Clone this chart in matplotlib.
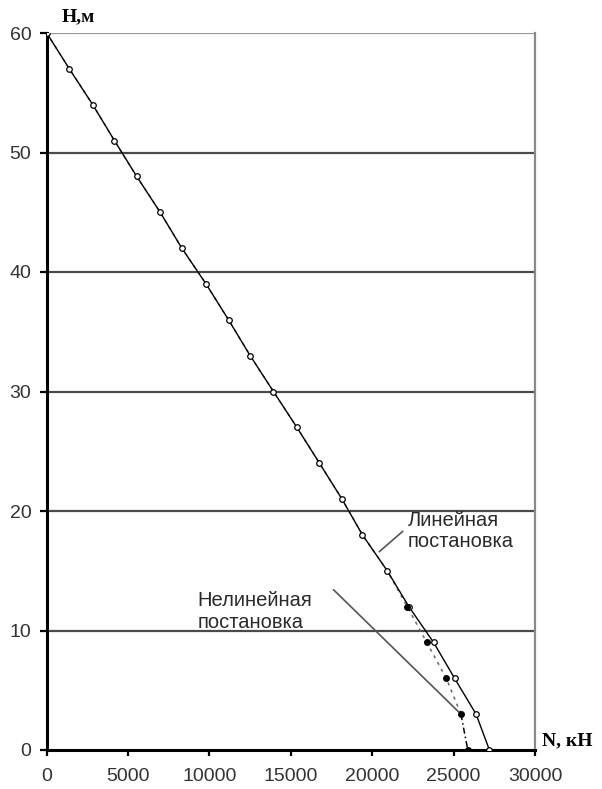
import matplotlib
matplotlib.use("Agg")
import matplotlib.pyplot as plt

# Heights, m
H_lin = [60, 57, 54, 51, 48, 45, 42, 39, 36, 33, 30, 27, 24, 21, 18, 15, 12, 9, 6, 3, 0]
# Linear formulation, kN
N_lin = [0, 1390, 2830, 4160, 5530, 6970, 8300, 9790, 11170, 12500, 13930, 15370,
         16760, 18140, 19400, 20920, 22250, 23770, 25060, 26380, 27200]
# Nonlinear formulation (coincides with linear above 12 m)
H_nl = [60, 57, 54, 51, 48, 45, 42, 39, 36, 33, 30, 27, 24, 21, 18, 15, 12, 9, 6, 3, 0]
N_nl = [0, 1390, 2830, 4160, 5530, 6970, 8300, 9790, 11170, 12500, 13930, 15370,
        16760, 18140, 19400, 20920, 22150, 23350, 24550, 25450, 25870]

x_ticks = [0, 5000, 10000, 15000, 20000, 25000, 30000]
y_ticks = [0, 10, 20, 30, 40, 50, 60]

label_lin = "Линейная\nпостановка"
label_nl = "Нелинейная\nпостановка"

plt.rcParams['font.family'] = ['Liberation Sans', 'DejaVu Sans']

fig = plt.figure(figsize=(6.02, 7.89), dpi=100)
ax = fig.add_axes([46.7 / 602, 1 - 750 / 789, (535 - 46.7) / 602, (750 - 33) / 789])
ax.set_xlim(0, 30000)
ax.set_ylim(0, 60)

# horizontal grid
for yv in y_ticks[1:]:
    ax.axhline(yv, color='#9a9a9a' if yv == 60 else '#4a4a4a', lw=1.6, zorder=1)

# nonlinear curve (dotted) over the whole height
ax.plot(N_nl[:-1], H_nl[:-1], color='#666666', lw=1.1, ls=(0, (2, 3)), zorder=3)
ax.plot(N_nl[-2:], H_nl[-2:], color='black', lw=1.1, ls=(0, (4, 2, 1, 2)), zorder=3)
# linear curve
ax.plot(N_lin, H_lin, color='black', lw=1.0, zorder=4)
ax.plot(N_lin, H_lin, ls='none', marker='o', ms=4, mfc='white', mec='black', mew=0.9, zorder=5)
# nonlinear markers where it departs from linear
ax.plot(N_nl[16:], H_nl[16:], ls='none', marker='o', ms=4, mfc='black', mec='black', zorder=6)

# spines
ax.spines['top'].set_visible(False)
ax.spines['right'].set_color('#8a8a8a')
ax.spines['right'].set_linewidth(1.6)
ax.spines['left'].set_linewidth(2.2)
ax.spines['bottom'].set_linewidth(2.2)

ax.set_xticks(x_ticks)
ax.set_yticks(y_ticks)
ax.set_xticklabels([str(v) for v in x_ticks])
ax.set_yticklabels([str(v) for v in y_ticks])
ax.tick_params(axis='x', direction='out', length=4, width=1.6, pad=9, labelsize=14, labelcolor='#333333')
ax.tick_params(axis='y', direction='out', length=5, width=1.6, pad=6, labelsize=14, labelcolor='#333333')

# axis titles
fig.text(62 / 602, 1 - 17 / 789, 'H,м', fontsize=14, fontweight='bold',
         family=['Liberation Serif', 'DejaVu Serif'], ha='left', va='center')
fig.text(542 / 602, 1 - 741 / 789, 'N, кН', fontsize=14, fontweight='bold',
         family=['Liberation Serif', 'DejaVu Serif'], ha='left', va='center')

# annotations
ax.annotate(label_lin, xy=(20440, 16.6), xytext=(22200, 18.3), fontsize=14.5,
            color='#2a2a2a', ha='left', va='center', linespacing=1.15,
            arrowprops=dict(arrowstyle='-', color='#555555', lw=1.2, shrinkA=0, shrinkB=0,
                            relpos=(-0.05, 0.5)))
ax.text(16300, 11.6, label_nl, fontsize=14.5, color='#2a2a2a', ha='right', va='center',
        multialignment='left', linespacing=1.15)
ax.plot([17630, 25300], [13.4, 3.2], color='#555555', lw=1.2, zorder=2)

fig.savefig('out.png', dpi=100)
